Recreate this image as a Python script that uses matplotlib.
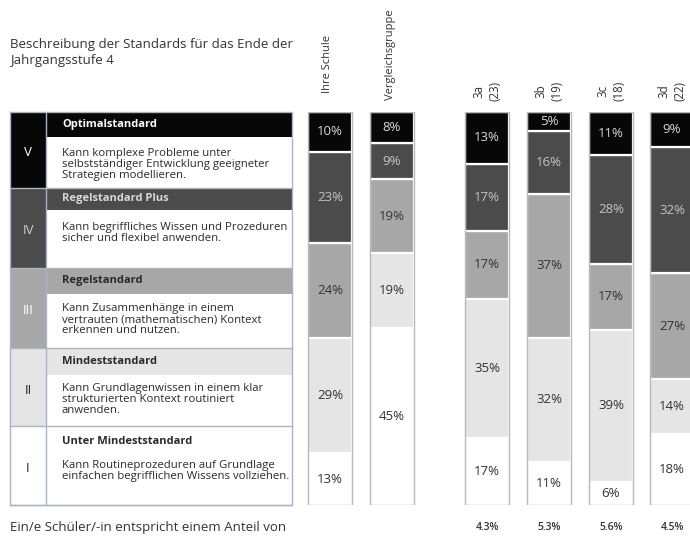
import matplotlib.pyplot as plt
import numpy as np

plt.rcParams['font.family'] = ['Open Sans', 'DejaVu Sans']

groups = ['Ihre Schule', 'Vergleichsgruppe', '3a\n(23)', '3b\n(19)', '3c\n(18)', '3d\n(22)']
# Anteile je Kompetenzstufe in Prozent, Stufe I unten bis Stufe V oben
stufe_1 = [13, 45, 17, 11, 6, 18]
stufe_2 = [29, 19, 35, 32, 39, 14]
stufe_3 = [24, 19, 17, 37, 17, 27]
stufe_4 = [23, 9, 17, 16, 28, 32]
stufe_5 = [10, 8, 13, 5, 11, 9]
anteil = ['', '', '4.3%', '5.3%', '5.6%', '4.5%']

roemisch = ['V', 'IV', 'III', 'II', 'I']
titel = ['Optimalstandard', 'Regelstandard Plus', 'Regelstandard',
         'Mindeststandard', 'Unter Mindeststandard']
beschreibung = [
    'Kann komplexe Probleme unter\nselbstständiger Entwicklung geeigneter\nStrategien modellieren.',
    'Kann begriffliches Wissen und Prozeduren\nsicher und flexibel anwenden.',
    'Kann Zusammenhänge in einem\nvertrauten (mathematischen) Kontext\nerkennen und nutzen.',
    'Kann Grundlagenwissen in einem klar\nstrukturierten Kontext routiniert\nanwenden.',
    'Kann Routineprozeduren auf Grundlage\neinfachen begrifflichen Wissens vollziehen.',
]

# Farben Stufe V..I
fill = ['#070707', '#4b4b4b', '#a7a7a7', '#e5e5e5', '#ffffff']
txt = ['#ffffff', '#d8d8d8', '#2a2a2a', '#2a2a2a', '#2a2a2a']
num_col = ['#ffffff', '#d0d0d0', '#ffffff', '#2a2a2a', '#2a2a2a']
bar_txt = ['#d8d8d8', '#c4c4c4', '#333333', '#333333', '#333333']

fig = plt.figure(figsize=(6.9, 5.38), dpi=100)

# Hintergrund-Achse in Pixelkoordinaten für Tabelle und Texte
ax = fig.add_axes([0, 0, 1, 1])
ax.set_xlim(0, 690)
ax.set_ylim(538, 0)
ax.axis('off')

ax.text(10, 38, 'Beschreibung der Standards für das Ende der\nJahrgangsstufe 4',
        fontsize=9.5, color='#333333', va='top', linespacing=1.3)

# Tabelle
rows_top = [112, 188, 268, 348, 426]
rows_bot = [188, 268, 348, 426, 505]
head_h = [25, 22, 26, 27, 30]
desc_y = [155, 229, 310, 390, 467]
x0, x1, x2 = 10, 46, 292
border = '#a9b5c0'
for i in range(5):
    t, b = rows_top[i], rows_bot[i]
    ax.add_patch(plt.Rectangle((x0, t), x1 - x0, b - t, color=fill[i], lw=0))
    ax.add_patch(plt.Rectangle((x1, t), x2 - x1, head_h[i], color=fill[i], lw=0))
    ax.text((x0 + x1) / 2, (t + b) / 2 + 3, roemisch[i], color=num_col[i],
            fontsize=9.5, ha='center', va='center')
    ax.text(62, t + head_h[i] / 2, titel[i], color=txt[i], fontsize=8,
            fontweight='bold', va='center')
    ax.text(62, desc_y[i] - 7, beschreibung[i], color='#2a2a2a',
            fontsize=8.2, va='top', linespacing=1.0)
    ax.plot([x0, x2], [b, b], color=border, lw=1)
ax.plot([x0, x2, x2, x0, x0], [112, 112, 505, 505, 112], color=border, lw=1)
ax.plot([x1, x1], [112, 505], color=border, lw=1)

ax.text(10, 527, 'Ein/e Schüler/-in entspricht einem Anteil von',
        fontsize=9.5, color='#333333', va='center')

# Säulen
xpos = np.array([330, 392, 487, 549, 611, 672])
bx = fig.add_axes([0, 33 / 538, 1, 393 / 538])
bx.set_xlim(0, 690)
bx.set_ylim(0, 100)
bx.axis('off')

stufen = np.array([stufe_1, stufe_2, stufe_3, stufe_4, stufe_5], dtype=float)
total = stufen.sum(axis=0)
anteile = stufen / total * 100
bottom = np.zeros(len(groups))
for k in range(5):
    i = 4 - k  # Index für Farben (V..I)
    bx.bar(xpos, anteile[k], bottom=bottom, width=44, color=fill[i],
           edgecolor='white', linewidth=1.6)
    for j in range(len(groups)):
        bx.text(xpos[j], bottom[j] + anteile[k][j] / 2, f'{int(stufen[k][j])}%',
                ha='center', va='center', fontsize=9.5, color=bar_txt[i])
    bottom += anteile[k]
bx.bar(xpos, 100, width=44, fill=False, edgecolor='#b8b8b8', linewidth=1)

for j, g in enumerate(groups):
    if j < 2:
        ax.text(xpos[j] - 2, 93 + 7 * j, g, rotation=90, ha='center', va='bottom',
                fontsize=8, color='#333333')
    else:
        ax.text(xpos[j], 101, g, rotation=90, ha='center', va='bottom',
                fontsize=8.3, color='#333333', multialignment='center',
                linespacing=1.35)
    ax.text(xpos[j], 527, anteil[j], ha='center', va='center', fontsize=7.5,
            color='#333333', fontweight='semibold')

fig.savefig('out.png', dpi=100)
